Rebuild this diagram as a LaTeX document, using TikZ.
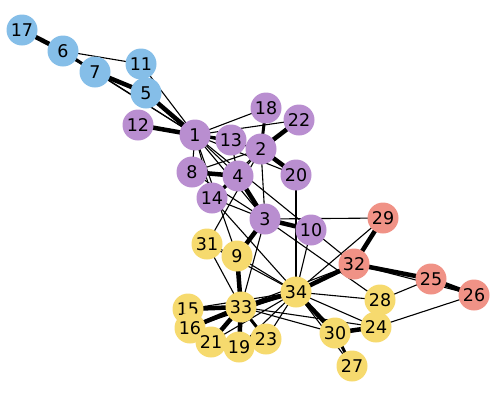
\documentclass[tikz,border=0pt]{standalone}
\usepackage{fontspec}
\setmainfont{DejaVu Sans}
\definecolor{cb}{RGB}{133,190,232}
\definecolor{cp}{RGB}{185,142,208}
\definecolor{cy}{RGB}{246,218,110}
\definecolor{cs}{RGB}{240,146,134}
\tikzset{
  vtx/.style={circle, inner sep=0pt, minimum size=31pt, font=\fontsize{17.5}{17.5}\selectfont},
  vb/.style={vtx, fill=cb}, vp/.style={vtx, fill=cp}, vy/.style={vtx, fill=cy}, vs/.style={vtx, fill=cs},
  e/.style={line width=1.1pt, black},
  em/.style={line width=3pt, black},
  et/.style={line width=4.5pt, black},
}
\begin{document}
\begin{tikzpicture}[x=1pt,y=-1pt]
\useasboundingbox (0,0) rectangle (497,410);
% node coordinates
\coordinate (p17) at (22,30);
\coordinate (p6) at (63,51);
\coordinate (p7) at (95,72);
\coordinate (p11) at (141,64);
\coordinate (p5) at (146,93);
\coordinate (p12) at (138,125);
\coordinate (p1) at (195,135);
\coordinate (p13) at (231,140);
\coordinate (p18) at (266,108);
\coordinate (p22) at (299,120);
\coordinate (p2) at (261,149);
\coordinate (p20) at (296,175);
\coordinate (p8) at (192,172);
\coordinate (p4) at (238,176);
\coordinate (p14) at (212,198);
\coordinate (p3) at (265,219);
\coordinate (p10) at (311,230);
\coordinate (p29) at (383,218);
\coordinate (p31) at (207,244);
\coordinate (p9) at (237,256);
\coordinate (p32) at (354,264);
\coordinate (p25) at (431,279);
\coordinate (p26) at (474,295);
\coordinate (p34) at (296,292);
\coordinate (p28) at (380,300);
\coordinate (p15) at (188,309);
\coordinate (p33) at (241,307);
\coordinate (p16) at (190,328);
\coordinate (p21) at (211,342);
\coordinate (p19) at (239,347);
\coordinate (p23) at (266,339);
\coordinate (p30) at (335,333);
\coordinate (p24) at (376,327);
\coordinate (p27) at (352,366);
% edges
\foreach \a/\b/\s in {1/2/e,1/3/e,1/4/e,1/5/et,1/6/e,1/7/e,1/8/e,1/9/e,1/11/e,1/12/et,1/13/em,1/14/e,1/18/e,1/20/e,1/22/e,1/32/e,
  2/3/e,2/4/e,2/8/e,2/14/e,2/18/em,2/20/et,2/22/et,2/31/e,
  3/4/et,3/8/e,3/9/et,3/10/et,3/14/e,3/28/e,3/29/e,3/33/e,
  4/8/et,4/13/e,4/14/em,5/7/et,5/11/e,6/7/em,6/11/e,6/17/et,7/17/e,
  9/31/e,9/33/et,9/34/e,10/34/e,14/34/e,15/33/et,15/34/e,16/33/et,16/34/e,
  19/33/et,19/34/e,20/34/e,21/33/et,21/34/e,23/33/em,23/34/e,
  24/26/e,24/28/e,24/30/et,24/33/e,24/34/e,25/26/et,25/28/e,25/32/et,26/32/e,
  27/30/em,27/34/e,28/34/e,29/32/et,29/34/e,30/33/e,30/34/et,31/33/e,31/34/e,
  32/33/e,32/34/et,33/34/et}
  \draw[\s] (p\a) -- (p\b);
% nodes
\foreach \n in {17,6,7,11,5}
  \node[vb] (n\n) at (p\n) {\n};
\foreach \n in {12,1,13,18,22,2,20,8,4,14,3,10}
  \node[vp] (n\n) at (p\n) {\n};
\foreach \n in {29,32,25,26}
  \node[vs] (n\n) at (p\n) {\n};
\foreach \n in {31,9,34,28,15,33,16,21,19,23,30,24,27}
  \node[vy] (n\n) at (p\n) {\n};
\end{tikzpicture}
\end{document}
